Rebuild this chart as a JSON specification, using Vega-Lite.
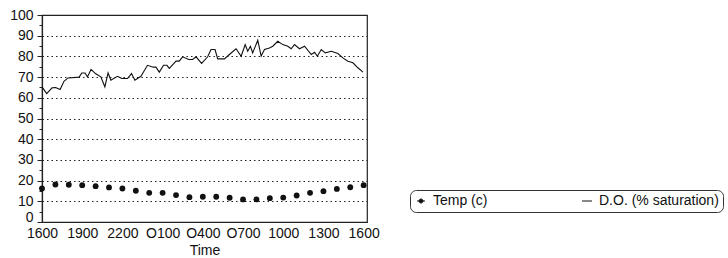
{
  "$schema": "https://vega.github.io/schema/vega-lite/v6.json",
  "autosize": "none",
  "padding": {"left": 42, "top": 15, "right": 361, "bottom": 36},
  "width": 325,
  "height": 207,
  "background": "white",
  "config": {
    "font": "Liberation Sans",
    "view": {"stroke": "#222", "strokeWidth": 1.2},
    "axis": {"labelFont": "Liberation Sans", "titleFont": "Liberation Sans", "labelColor": "#111", "titleColor": "#111", "domainColor": "#222", "tickColor": "#222", "domainWidth": 1.2}
  },
  "data": {
    "values": [
      {"series": "Temp (c)", "hour": 0, "value": 16.2},
      {"series": "Temp (c)", "hour": 1, "value": 18.1},
      {"series": "Temp (c)", "hour": 2, "value": 18.0},
      {"series": "Temp (c)", "hour": 3, "value": 17.8},
      {"series": "Temp (c)", "hour": 4, "value": 17.3},
      {"series": "Temp (c)", "hour": 5, "value": 16.7},
      {"series": "Temp (c)", "hour": 6, "value": 16.2},
      {"series": "Temp (c)", "hour": 7, "value": 15.1},
      {"series": "Temp (c)", "hour": 8, "value": 14.1},
      {"series": "Temp (c)", "hour": 9, "value": 14.1},
      {"series": "Temp (c)", "hour": 10, "value": 13.0},
      {"series": "Temp (c)", "hour": 11, "value": 12.0},
      {"series": "Temp (c)", "hour": 12, "value": 12.2},
      {"series": "Temp (c)", "hour": 13, "value": 12.2},
      {"series": "Temp (c)", "hour": 14, "value": 11.7},
      {"series": "Temp (c)", "hour": 15, "value": 10.9},
      {"series": "Temp (c)", "hour": 16, "value": 10.9},
      {"series": "Temp (c)", "hour": 17, "value": 11.5},
      {"series": "Temp (c)", "hour": 18, "value": 11.8},
      {"series": "Temp (c)", "hour": 19, "value": 12.8},
      {"series": "Temp (c)", "hour": 20, "value": 14.1},
      {"series": "Temp (c)", "hour": 21, "value": 14.9},
      {"series": "Temp (c)", "hour": 22, "value": 16.0},
      {"series": "Temp (c)", "hour": 23, "value": 16.8},
      {"series": "Temp (c)", "hour": 24, "value": 17.8},
      {"series": "D.O. (% saturation)", "hour": 0.0, "value": 65.3},
      {"series": "D.O. (% saturation)", "hour": 0.35, "value": 62.0},
      {"series": "D.O. (% saturation)", "hour": 0.75, "value": 64.8},
      {"series": "D.O. (% saturation)", "hour": 1.02, "value": 65.0},
      {"series": "D.O. (% saturation)", "hour": 1.35, "value": 64.0},
      {"series": "D.O. (% saturation)", "hour": 1.64, "value": 68.0},
      {"series": "D.O. (% saturation)", "hour": 1.94, "value": 69.6},
      {"series": "D.O. (% saturation)", "hour": 2.77, "value": 70.0},
      {"series": "D.O. (% saturation)", "hour": 2.97, "value": 72.0},
      {"series": "D.O. (% saturation)", "hour": 3.21, "value": 72.0},
      {"series": "D.O. (% saturation)", "hour": 3.39, "value": 70.1},
      {"series": "D.O. (% saturation)", "hour": 3.66, "value": 73.7},
      {"series": "D.O. (% saturation)", "hour": 4.01, "value": 71.6},
      {"series": "D.O. (% saturation)", "hour": 4.39, "value": 70.1},
      {"series": "D.O. (% saturation)", "hour": 4.69, "value": 65.3},
      {"series": "D.O. (% saturation)", "hour": 4.93, "value": 72.0},
      {"series": "D.O. (% saturation)", "hour": 5.14, "value": 68.5},
      {"series": "D.O. (% saturation)", "hour": 5.63, "value": 70.4},
      {"series": "D.O. (% saturation)", "hour": 5.96, "value": 69.3},
      {"series": "D.O. (% saturation)", "hour": 6.38, "value": 69.3},
      {"series": "D.O. (% saturation)", "hour": 6.68, "value": 71.7},
      {"series": "D.O. (% saturation)", "hour": 6.93, "value": 68.5},
      {"series": "D.O. (% saturation)", "hour": 7.38, "value": 70.4},
      {"series": "D.O. (% saturation)", "hour": 7.87, "value": 75.7},
      {"series": "D.O. (% saturation)", "hour": 8.3, "value": 74.8},
      {"series": "D.O. (% saturation)", "hour": 8.5, "value": 74.8},
      {"series": "D.O. (% saturation)", "hour": 8.75, "value": 72.4},
      {"series": "D.O. (% saturation)", "hour": 9.07, "value": 75.7},
      {"series": "D.O. (% saturation)", "hour": 9.32, "value": 75.7},
      {"series": "D.O. (% saturation)", "hour": 9.5, "value": 74.2},
      {"series": "D.O. (% saturation)", "hour": 10.0, "value": 77.7},
      {"series": "D.O. (% saturation)", "hour": 10.24, "value": 77.7},
      {"series": "D.O. (% saturation)", "hour": 10.49, "value": 79.8},
      {"series": "D.O. (% saturation)", "hour": 10.94, "value": 78.5},
      {"series": "D.O. (% saturation)", "hour": 11.24, "value": 78.5},
      {"series": "D.O. (% saturation)", "hour": 11.49, "value": 79.8},
      {"series": "D.O. (% saturation)", "hour": 11.91, "value": 76.6},
      {"series": "D.O. (% saturation)", "hour": 12.36, "value": 79.8},
      {"series": "D.O. (% saturation)", "hour": 12.61, "value": 83.3},
      {"series": "D.O. (% saturation)", "hour": 12.91, "value": 83.3},
      {"series": "D.O. (% saturation)", "hour": 13.11, "value": 78.8},
      {"series": "D.O. (% saturation)", "hour": 13.61, "value": 78.8},
      {"series": "D.O. (% saturation)", "hour": 13.98, "value": 80.9},
      {"series": "D.O. (% saturation)", "hour": 14.48, "value": 83.7},
      {"series": "D.O. (% saturation)", "hour": 14.86, "value": 80.1},
      {"series": "D.O. (% saturation)", "hour": 15.16, "value": 85.7},
      {"series": "D.O. (% saturation)", "hour": 15.35, "value": 82.5},
      {"series": "D.O. (% saturation)", "hour": 15.55, "value": 84.9},
      {"series": "D.O. (% saturation)", "hour": 15.72, "value": 81.7},
      {"series": "D.O. (% saturation)", "hour": 16.1, "value": 87.8},
      {"series": "D.O. (% saturation)", "hour": 16.35, "value": 80.1},
      {"series": "D.O. (% saturation)", "hour": 16.6, "value": 83.3},
      {"series": "D.O. (% saturation)", "hour": 16.97, "value": 84.1},
      {"series": "D.O. (% saturation)", "hour": 17.22, "value": 84.9},
      {"series": "D.O. (% saturation)", "hour": 17.59, "value": 87.3},
      {"series": "D.O. (% saturation)", "hour": 17.97, "value": 85.7},
      {"series": "D.O. (% saturation)", "hour": 18.34, "value": 84.9},
      {"series": "D.O. (% saturation)", "hour": 18.59, "value": 83.7},
      {"series": "D.O. (% saturation)", "hour": 18.84, "value": 85.7},
      {"series": "D.O. (% saturation)", "hour": 19.21, "value": 83.7},
      {"series": "D.O. (% saturation)", "hour": 19.59, "value": 84.9},
      {"series": "D.O. (% saturation)", "hour": 20.09, "value": 80.9},
      {"series": "D.O. (% saturation)", "hour": 20.34, "value": 82.0},
      {"series": "D.O. (% saturation)", "hour": 20.54, "value": 80.1},
      {"series": "D.O. (% saturation)", "hour": 20.84, "value": 83.3},
      {"series": "D.O. (% saturation)", "hour": 21.14, "value": 81.7},
      {"series": "D.O. (% saturation)", "hour": 21.59, "value": 82.5},
      {"series": "D.O. (% saturation)", "hour": 22.08, "value": 81.4},
      {"series": "D.O. (% saturation)", "hour": 22.45, "value": 79.3},
      {"series": "D.O. (% saturation)", "hour": 22.83, "value": 77.7},
      {"series": "D.O. (% saturation)", "hour": 23.2, "value": 76.9},
      {"series": "D.O. (% saturation)", "hour": 23.57, "value": 74.5},
      {"series": "D.O. (% saturation)", "hour": 23.95, "value": 72.4}
    ]
  },
  "encoding": {
    "x": {
      "field": "hour", "type": "quantitative",
      "scale": {"domain": [0, 24.25], "nice": false, "zero": false},
      "axis": {
        "title": "Time", "titleFontSize": 14, "titleFontWeight": "normal", "titlePadding": 3,
        "values": [0, 3, 6, 9, 12, 15, 18, 21, 24],
        "labelExpr": "['1600','1900','2200','O100','O400','O700','1000','1300','1600'][datum.value/3]",
        "labelFontSize": 14, "labelPadding": 4, "ticks": false, "grid": false,
        "labelFlush": false, "labelOverlap": false
      }
    },
    "y": {
      "field": "value", "type": "quantitative",
      "scale": {"domain": [0, 100], "nice": false},
      "axis": {
        "title": null,
        "values": [0, 5, 10, 15, 20, 25, 30, 35, 40, 45, 50, 55, 60, 65, 70, 75, 80, 85, 90, 95, 100],
        "labelExpr": "datum.value % 10 == 0 ? datum.label : ''",
        "labelFontSize": 14, "labelPadding": 4,
        "labelOffset": {"condition": {"test": "datum.value == 0", "value": -5}, "value": 0},
        "tickSize": {"condition": {"test": "datum.value % 10 != 0", "value": 3}, "value": 5},
        "grid": true, "gridColor": "#222", "gridDash": [1.5, 3], "gridWidth": 1.2,
        "gridOpacity": {"condition": {"test": "datum.value % 10 != 0 || datum.value == 0 || datum.value == 100", "value": 0}, "value": 1},
        "labelFlush": false, "labelOverlap": false
      }
    },
    "color": {
      "field": "series", "type": "nominal",
      "scale": {"domain": ["Temp (c)", "D.O. (% saturation)"], "range": ["#111", "#111"]},
      "legend": {
        "title": null, "orient": "none", "legendX": 368, "legendY": 175,
        "direction": "horizontal", "columns": 2, "columnPadding": 92,
        "strokeColor": "#333", "cornerRadius": 6, "padding": 4, "fillColor": "white",
        "labelFontSize": 14, "labelFont": "Liberation Sans", "labelColor": "#111", "labelOffset": 5,
        "symbolSize": 100, "symbolStrokeWidth": 1,
        "encode": {
          "symbols": {
            "update": {
              "shape": {"signal": "datum.value === 'Temp (c)' ? 'M-0.8,0H0.8M-0.4,0A0.4,0.4 0 1,1 0.4,0A0.4,0.4 0 1,1 -0.4,0Z' : 'M-1,0H1'"},
              "fill": {"value": "#111"},
              "stroke": {"value": "#111"},
              "strokeWidth": {"value": 1}
            }
          }
        }
      }
    }
  },
  "layer": [
    {
      "transform": [{"filter": "datum.series === 'D.O. (% saturation)'"}],
      "mark": {"type": "line", "strokeWidth": 1.1, "interpolate": "linear"}
    },
    {
      "transform": [{"filter": "datum.series === 'Temp (c)'"}],
      "mark": {"type": "point", "filled": true, "shape": "circle", "size": 34, "opacity": 1}
    }
  ]
}
